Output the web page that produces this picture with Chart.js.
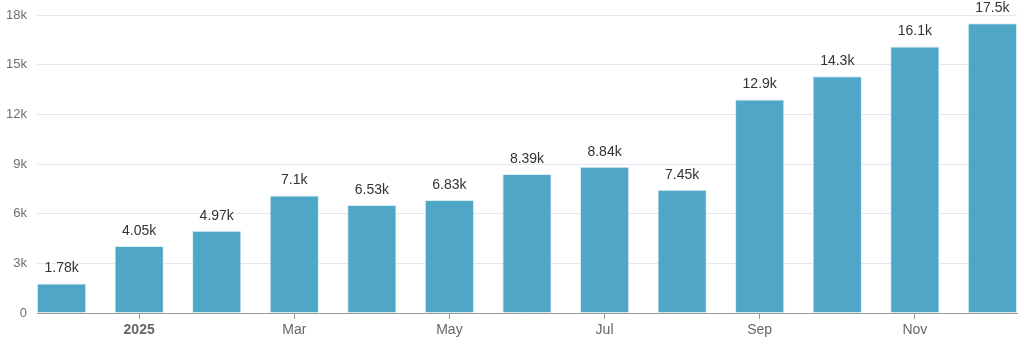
<!DOCTYPE html>
<html>
<head>
<meta charset="utf-8">
<script src="https://cdn.jsdelivr.net/npm/chart.js@4.4.1/dist/chart.umd.min.js"></script>
<style>
    html, body { margin: 0; padding: 0; background: #fff; }
    #wrap { width: 1024px; height: 345px; position: relative; }
</style>
</head>
<body>
<div id="wrap"><canvas id="chart"></canvas></div>
<script>
// monthly totals, Dec 2024 -> Dec 2025
const months = ['Dec', 'Jan', 'Feb', 'Mar', 'Apr', 'May', 'Jun', 'Jul', 'Aug', 'Sep', 'Oct', 'Nov', 'Dec'];
const values = [1780, 4050, 4970, 7100, 6530, 6830, 8390, 8840, 7450, 12900, 14300, 16100, 17500];
const tickPositions = [1, 3, 5, 7, 9, 11];
const tickLabels = ['2025', 'Mar', 'May', 'Jul', 'Sep', 'Nov'];
const yTicks = [0, 3000, 6000, 9000, 12000, 15000, 18000];

const FONT = "'Liberation Sans', Arial, sans-serif";

function fmtK(v) {
    if (v === 0) return '0';
    const k = v / 1000;
    return parseFloat(k.toPrecision(3)) + 'k';
}

const barLabels = {
    id: 'barLabels',
    afterDatasetsDraw(chart) {
        const ctx = chart.ctx;
        const meta = chart.getDatasetMeta(0);
        ctx.save();
        ctx.font = '14px ' + FONT;
        ctx.fillStyle = '#333';
        ctx.textAlign = 'center';
        ctx.textBaseline = 'bottom';
        meta.data.forEach((bar, i) => {
            ctx.fillText(fmtK(values[i]), bar.x, bar.y - 8);
        });
        ctx.restore();
    }
};

const data = values.map((v, i) => ({ x: i, y: v }));

new Chart(document.getElementById('chart'), {
    type: 'bar',
    data: {
        datasets: [{
            data: data,
            backgroundColor: '#4fa6c7',
            borderColor: 'rgba(200,230,240,0.7)',
            borderWidth: 1,
            barPercentage: 0.635,
            categoryPercentage: 1
        }]
    },
    options: {
        responsive: true,
        maintainAspectRatio: false,
        animation: false,
        layout: { padding: { top: 15, right: 7, bottom: 0, left: 0 } },
        plugins: {
            legend: { display: false },
            tooltip: { enabled: false }
        },
        scales: {
            x: {
                type: 'linear',
                offset: false,
                min: -0.317,
                max: 12.317,
                afterBuildTicks: (scale) => {
                    scale.ticks = tickPositions.map(v => ({ value: v }));
                },
                afterFit: (scale) => {
                    scale.height = 32;
                    scale.paddingLeft = 0;
                    scale.paddingRight = 0;
                },
                ticks: {
                    autoSkip: false,
                    maxRotation: 0,
                    padding: 3,
                    color: '#666',
                    font: (c) => ({
                        family: FONT,
                        size: 14,
                        weight: c.tick && c.tick.value === 1 ? 'bold' : 'normal'
                    }),
                    callback: (v) => tickLabels[tickPositions.indexOf(v)]
                },
                grid: {
                    offset: false,
                    drawOnChartArea: false,
                    drawTicks: true,
                    tickLength: 6,
                    color: '#999'
                },
                border: { display: true, color: '#999', width: 1 }
            },
            y: {
                min: 0,
                max: 18000,
                afterBuildTicks: (scale) => {
                    scale.ticks = yTicks.map(v => ({ value: v }));
                },
                afterFit: (scale) => {
                    scale.width = 37;
                    scale.paddingTop = 0;
                    scale.paddingBottom = 0;
                },
                ticks: {
                    padding: 10,
                    color: '#6e6e6e',
                    font: { family: FONT, size: 13 },
                    callback: (v) => fmtK(v)
                },
                grid: {
                    color: '#e4e7f2',
                    drawTicks: false
                },
                border: { display: false }
            }
        }
    },
    plugins: [barLabels]
});
</script>
</body>
</html>
